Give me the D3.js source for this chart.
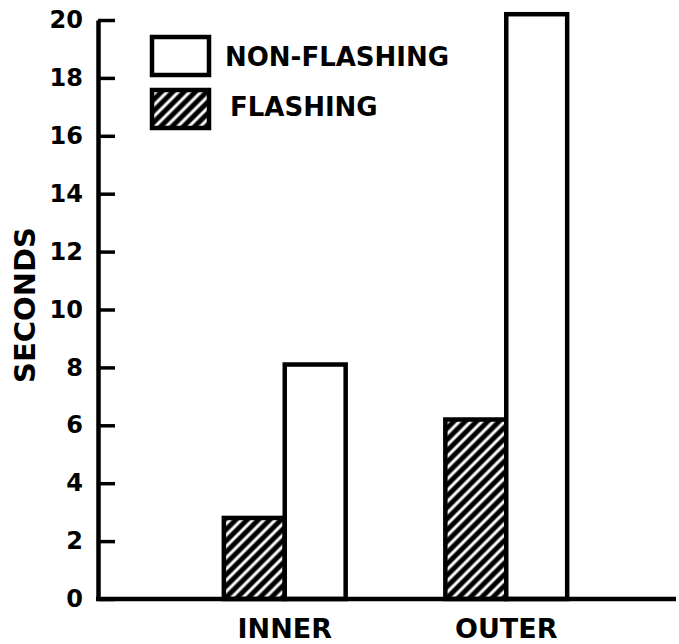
<!DOCTYPE html>
<html>
<head>
<meta charset="utf-8">
<script src="https://cdn.jsdelivr.net/npm/d3@7"></script>
<style>
  body { margin: 0; background: #fff; }
  svg { display: block; font-family: "DejaVu Sans", sans-serif; font-weight: bold; }
</style>
</head>
<body>
<div class="viz"></div>
<script>
// data
const categories = ["INNER", "OUTER"];
const series = ["FLASHING", "NON-FLASHING"];
const flashing = [2.8, 6.2];
const nonFlashing = [8.1, 20.2];
const yTicks = [0, 2, 4, 6, 8, 10, 12, 14, 16, 18, 20];

const width = 679, height = 644;
const axisX = 98; // y axis position

const rows = categories.map((c, i) => ({
  category: c,
  values: [
    { key: series[0], value: flashing[i] },
    { key: series[1], value: nonFlashing[i] }
  ]
}));

const svg = d3.select(".viz")
  .append("svg")
  .attr("width", width)
  .attr("height", height);

// hatch for the flashing bars: white "/" lines on black
const defs = svg.append("defs");
const pat = defs.append("pattern")
  .attr("id", "hatch")
  .attr("patternUnits", "userSpaceOnUse")
  .attr("width", 8)
  .attr("height", 8)
  .attr("patternTransform", "rotate(45)");
pat.append("rect").attr("width", 8).attr("height", 8).attr("fill", "#000");
pat.append("line")
  .attr("x1", 4).attr("x2", 4)
  .attr("y1", 0).attr("y2", 8)
  .attr("stroke", "#fff")
  .attr("stroke-width", 3);

const yScale = d3.scaleLinear().domain([0, 20]).range([599, 20]);

const xScale = d3.scaleBand()
  .domain(categories)
  .range([174, 617])
  .paddingInner(0.45)
  .paddingOuter(0.225);

const subScale = d3.scaleBand()
  .domain(series)
  .range([0, xScale.bandwidth()]);

const fillFor = key => key === "FLASHING" ? "url(#hatch)" : "#fff";

// bars
svg.append("g")
  .attr("class", "bars")
  .selectAll("g")
  .data(rows)
  .join("g")
  .attr("transform", d => `translate(${xScale(d.category)},0)`)
  .selectAll("rect")
  .data(d => d.values)
  .join("rect")
  .attr("x", d => subScale(d.key))
  .attr("y", d => yScale(d.value))
  .attr("width", subScale.bandwidth())
  .attr("height", d => yScale(0) - yScale(d.value))
  .attr("fill", d => fillFor(d.key))
  .attr("stroke", "#000")
  .attr("stroke-width", 4.5);

// y axis, ticks pointing inward
const yAxis = svg.append("g")
  .attr("transform", `translate(${axisX},0)`)
  .call(d3.axisLeft(yScale).tickValues(yTicks).tickSizeInner(-17).tickSizeOuter(0).tickPadding(15));
yAxis.select(".domain").attr("stroke-width", 4.5).attr("stroke", "#000");
yAxis.selectAll(".tick line").attr("stroke-width", 3.5).attr("stroke", "#000");
yAxis.selectAll(".tick text")
  .attr("font-size", 24)
  .attr("font-family", "DejaVu Sans, sans-serif")
  .attr("font-weight", "bold")
  .attr("fill", "#000");

// x axis: category labels, baseline drawn across
const xAxis = svg.append("g")
  .attr("transform", `translate(0,${yScale(0)})`)
  .call(d3.axisBottom(xScale).tickSize(0).tickPadding(20));
xAxis.select(".domain").remove();
xAxis.selectAll(".tick text")
  .attr("font-size", 27)
  .attr("font-family", "DejaVu Sans, sans-serif")
  .attr("font-weight", "bold")
  .attr("fill", "#000");

svg.append("line")
  .attr("x1", axisX - 2)
  .attr("x2", 676)
  .attr("y1", yScale(0))
  .attr("y2", yScale(0))
  .attr("stroke", "#000")
  .attr("stroke-width", 4.5);

// y label
svg.append("text")
  .attr("transform", `translate(35,305) rotate(-90)`)
  .attr("text-anchor", "middle")
  .attr("font-size", 29)
  .attr("fill", "#000")
  .text("SECONDS");

// legend
const legendItems = [
  { key: "NON-FLASHING", y: 37 },
  { key: "FLASHING", y: 90 }
];
const legend = svg.append("g")
  .attr("class", "legend")
  .selectAll("g")
  .data(legendItems)
  .join("g")
  .attr("transform", d => `translate(152,${d.y})`);
legend.append("rect")
  .attr("width", 57)
  .attr("height", 38)
  .attr("fill", d => fillFor(d.key))
  .attr("stroke", "#000")
  .attr("stroke-width", 4.5);
legend.append("text")
  .attr("x", d => d.key === "FLASHING" ? 78 : 73)
  .attr("y", d => d.key === "FLASHING" ? 17 : 20)
  .attr("dy", "0.36em")
  .attr("font-size", 26)
  .attr("fill", "#000")
  .text(d => d.key);
</script>
</body>
</html>
